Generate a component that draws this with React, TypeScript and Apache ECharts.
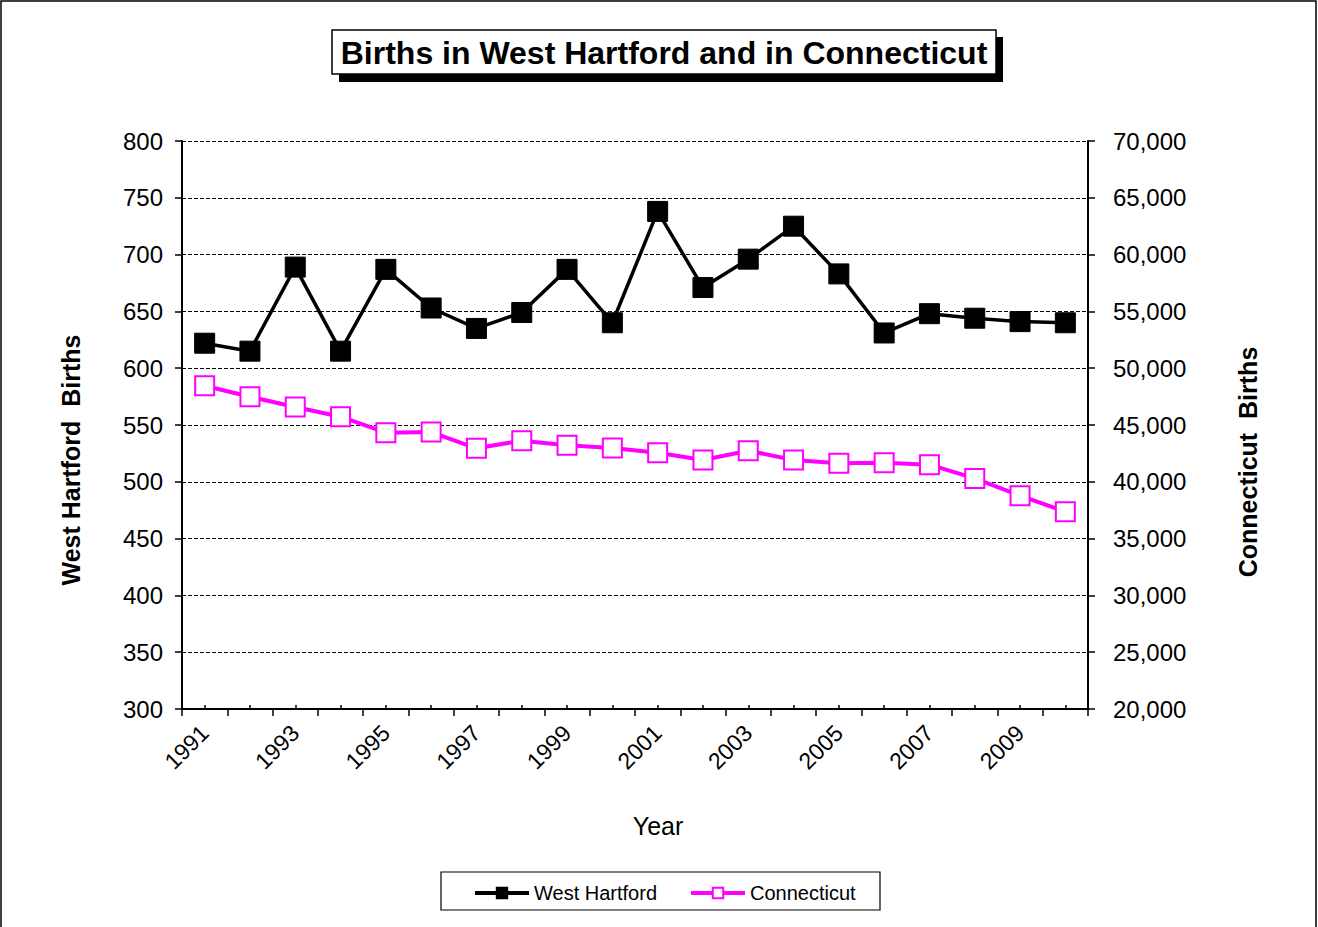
import React, { useEffect, useRef } from "react";
import * as echarts from "echarts";

const years = ["1991","1992","1993","1994","1995","1996","1997","1998","1999","2000","2001","2002","2003","2004","2005","2006","2007","2008","2009","2010"];
const westHartford = [622, 615, 689, 615, 687, 653, 635, 649, 687, 640, 738, 671, 696, 725, 683, 631, 648, 644, 641, 640];
const connecticut = [48460, 47490, 46590, 45730, 44320, 44380, 42950, 43620, 43210, 42980, 42560, 41920, 42740, 41920, 41630, 41680, 41510, 40300, 38780, 37370];

const FONT = "'Liberation Sans', Arial, sans-serif";

export default function App() {
  const ref = useRef<HTMLDivElement>(null);
  useEffect(() => {
    if (!ref.current) return;
    const chart = echarts.init(ref.current, null, { renderer: "svg" });
    chart.setOption({
      animation: false,
      backgroundColor: "#fff",
      textStyle: { fontFamily: FONT, color: "#000" },
      graphic: [
        { type: "rect", shape: { x: 1, y: 1, width: 1315, height: 940 }, style: { fill: "none", stroke: "#000", lineWidth: 1.5 }, silent: true },
        { type: "rect", shape: { x: 339, y: 37, width: 664, height: 45 }, style: { fill: "#000" }, silent: true },
        { type: "rect", shape: { x: 332, y: 30, width: 664, height: 44 }, style: { fill: "#fff", stroke: "#000", lineWidth: 1.5 }, silent: true },
        { type: "text", x: 664, y: 53, style: { text: "Births in West Hartford and in Connecticut", font: `bold 32px ${FONT}`, fill: "#000", align: "center", verticalAlign: "middle" }, silent: true },
        { type: "text", x: 658, y: 826, style: { text: "Year", font: `25px ${FONT}`, fill: "#000", align: "center", verticalAlign: "middle" }, silent: true },
        { type: "text", x: 71, y: 460, rotation: Math.PI / 2, style: { text: "West Hartford  Births", font: `bold 25px ${FONT}`, fill: "#000", align: "center", verticalAlign: "middle" }, silent: true },
        { type: "text", x: 1248, y: 462, rotation: Math.PI / 2, style: { text: "Connecticut  Births", font: `bold 25px ${FONT}`, fill: "#000", align: "center", verticalAlign: "middle" }, silent: true },
        { type: "rect", shape: { x: 441, y: 872, width: 439, height: 38 }, style: { fill: "#fff", stroke: "#000", lineWidth: 1.2 }, silent: true, z: -1 },
      ],
      legend: {
        top: 883,
        left: 473,
        padding: 0,
        itemWidth: 54,
        itemHeight: 13,
        itemGap: 32,
        textStyle: { fontSize: 20, fontFamily: FONT, color: "#000" },
        lineStyle: { width: 4 },
        data: ["West Hartford", "Connecticut"],
      },
      grid: { left: 182, right: 230, top: 141, bottom: 218, containLabel: false },
      xAxis: [
        {
          type: "category",
          data: years,
          boundaryGap: true,
          axisLine: { show: true, lineStyle: { color: "#000", width: 2 } },
          axisTick: { show: true, interval: 0, length: 7, lineStyle: { color: "#000", width: 1.5 } },
          axisLabel: { interval: 1, rotate: 45, fontSize: 23, fontFamily: FONT, color: "#000", margin: 20 },
          splitLine: { show: false },
        },
        {
          type: "category",
          data: years,
          position: "bottom",
          boundaryGap: true,
          axisLine: { show: false },
          axisTick: { show: true, inside: true, alignWithLabel: true, interval: 0, length: 4, lineStyle: { color: "#000", width: 1.5 } },
          axisLabel: { show: false },
          splitLine: { show: false },
        },
      ],
      yAxis: [
        {
          type: "value",
          min: 300,
          max: 800,
          interval: 50,
          position: "left",
          axisLine: { show: true, lineStyle: { color: "#000", width: 2 } },
          axisTick: { show: true, length: 7, lineStyle: { color: "#000", width: 1.5 } },
          axisLabel: { fontSize: 24, fontFamily: FONT, color: "#000", margin: 19 },
          splitLine: { show: true, lineStyle: { color: "#000", type: [4, 2], width: 1 } },
        },
        {
          type: "value",
          min: 20000,
          max: 70000,
          interval: 5000,
          position: "right",
          axisLine: { show: true, lineStyle: { color: "#000", width: 2 } },
          axisTick: { show: true, length: 7, lineStyle: { color: "#000", width: 1.5 } },
          axisLabel: {
            fontSize: 24,
            fontFamily: FONT,
            color: "#000",
            margin: 25,
            formatter: (v: number) => v.toLocaleString("en-US"),
          },
          splitLine: { show: false },
        },
      ],
      series: [
        {
          name: "West Hartford",
          type: "line",
          xAxisIndex: 0,
          yAxisIndex: 0,
          data: westHartford,
          symbol: "rect",
          symbolSize: 20,
          lineStyle: { color: "#000", width: 3.5 },
          itemStyle: { color: "#000", borderColor: "#000", borderWidth: 1 },
          z: 3,
        },
        {
          name: "Connecticut",
          type: "line",
          xAxisIndex: 0,
          yAxisIndex: 1,
          data: connecticut,
          symbol: "rect",
          symbolSize: 19,
          lineStyle: { color: "#ff00ff", width: 4 },
          itemStyle: { color: "#fff", borderColor: "#ff00ff", borderWidth: 2 },
          z: 2,
        },
      ],
    });
    return () => chart.dispose();
  }, []);
  return <div ref={ref} style={{ position: "fixed", left: 0, top: 0, width: 1318, height: 927 }} />;
}
